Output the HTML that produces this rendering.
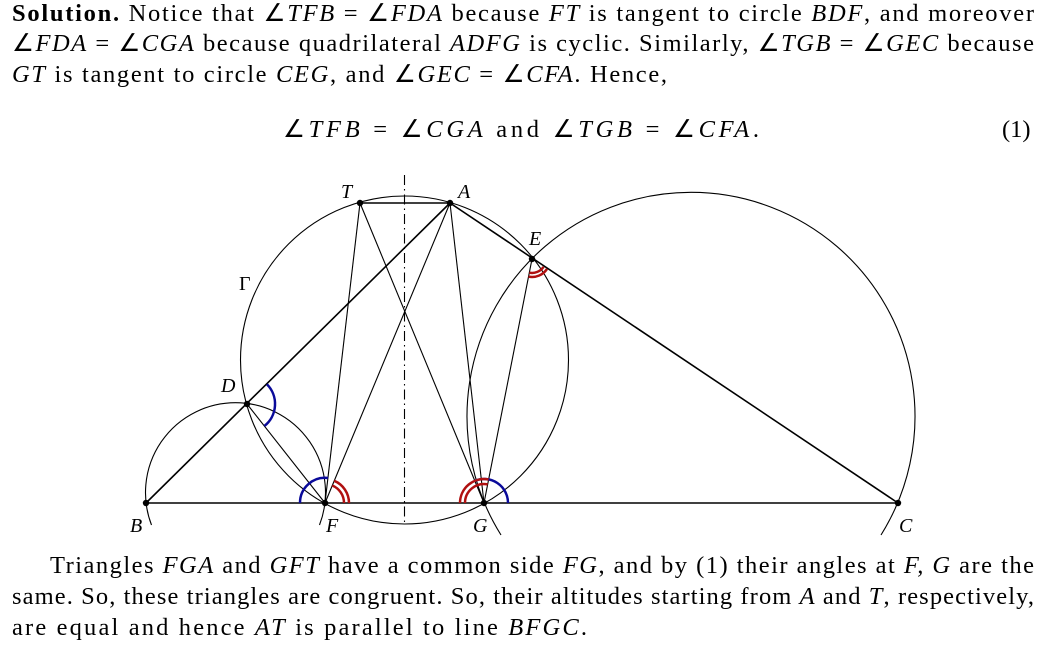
<!DOCTYPE html>
<html><head><meta charset="utf-8"><style>
html,body{margin:0;padding:0;background:#fff;}
svg{display:block;font-family:"Liberation Serif",serif;}
.i{font-style:italic}
</style></head><body>
<svg width="1053" height="645" viewBox="0 0 1053 645" xmlns="http://www.w3.org/2000/svg">
<g font-size="24.5" fill="#000">
<text x="12" y="21" textLength="1022" lengthAdjust="spacing"><tspan font-weight="bold">Solution.</tspan> Notice that ∠<tspan class="i">TFB</tspan> = ∠<tspan class="i">FDA</tspan> because <tspan class="i">FT</tspan> is tangent to circle <tspan class="i">BDF</tspan>, and moreover</text>
<text x="12" y="51" textLength="1022" lengthAdjust="spacing">∠<tspan class="i">FDA</tspan> = ∠<tspan class="i">CGA</tspan> because quadrilateral <tspan class="i">ADFG</tspan> is cyclic. Similarly, ∠<tspan class="i">TGB</tspan> = ∠<tspan class="i">GEC</tspan> because</text>
<text x="12" y="82" textLength="655" lengthAdjust="spacing"><tspan class="i">GT</tspan> is tangent to circle <tspan class="i">CEG</tspan>, and ∠<tspan class="i">GEC</tspan> = ∠<tspan class="i">CFA</tspan>. Hence,</text>
<text x="283" y="137" textLength="476" lengthAdjust="spacing">∠<tspan class="i">TFB</tspan> = ∠<tspan class="i">CGA</tspan>    and    ∠<tspan class="i">TGB</tspan> = ∠<tspan class="i">CFA</tspan>.</text>
<text x="1002" y="137">(1)</text>
<text x="50" y="573" textLength="984" lengthAdjust="spacing">Triangles <tspan class="i">FGA</tspan> and <tspan class="i">GFT</tspan> have a common side <tspan class="i">FG</tspan>, and by (1) their angles at <tspan class="i">F, G</tspan> are the</text>
<text x="12" y="604" textLength="1022" lengthAdjust="spacing">same. So, these triangles are congruent. So, their altitudes starting from <tspan class="i">A</tspan> and <tspan class="i">T</tspan>, respectively,</text>
<text x="12" y="635" textLength="575" lengthAdjust="spacing">are equal and hence <tspan class="i">AT</tspan> is parallel to line <tspan class="i">BFGC</tspan>.</text>
</g>
<g fill="none" stroke="#000" stroke-width="1.1">
<circle cx="404.5" cy="360" r="164"/>
<path d="M151.5,525 A90,90 0 1 1 319.5,525"/>
<path d="M501,535 A224,224 0 1 1 881,535"/>
<line x1="404.5" y1="175" x2="404.5" y2="525" stroke-dasharray="10,4,1.5,4"/>
<line x1="146" y1="503" x2="450" y2="203" stroke-width="1.6"/>
<line x1="450" y1="203" x2="898" y2="503" stroke-width="1.6"/>
<line x1="360" y1="203" x2="450" y2="203" stroke-width="1.6"/>
<line x1="360" y1="203" x2="325" y2="503"/>
<line x1="360" y1="203" x2="484" y2="503"/>
<line x1="450" y1="203" x2="325" y2="503"/>
<line x1="450" y1="203" x2="484" y2="503"/>
<line x1="532" y1="259" x2="484" y2="503"/>
<line x1="247" y1="404" x2="325" y2="503"/>
<line x1="146" y1="503" x2="898" y2="503" stroke-width="1.6"/>
</g>
<g fill="none" stroke-width="2.5">
<path d="M300,503 A25,25 0 0 1 328,478" stroke="#0a0a9a"/>
<path d="M508,503 A24,24 0 0 0 474.8,480.8" stroke="#0a0a9a"/>
<path d="M266.9,384.3 A28,28 0 0 1 264.4,426" stroke="#0a0a9a"/>
<path d="M334.2,480.8 A24,24 0 0 1 349,503" stroke="#b01010"/>
<path d="M332.3,485.5 A19,19 0 0 1 344,503" stroke="#b01010"/>
<path d="M460,503 A24,24 0 0 1 488.6,479.5" stroke="#b01010"/>
<path d="M465,503 A19,19 0 0 1 487.7,484.4" stroke="#b01010"/>
<path d="M547,269 A18,18 0 0 1 528.5,276.6" stroke="#b01010"/>
<path d="M543.6,266.8 A14,14 0 0 1 529.3,272.7" stroke="#b01010"/>
</g>
<g fill="#000">
<circle cx="146" cy="503" r="3.2"/><circle cx="325" cy="503" r="3.2"/><circle cx="484" cy="503" r="3.2"/><circle cx="898" cy="503" r="3.2"/>
<circle cx="450" cy="203" r="3.2"/><circle cx="360" cy="203" r="3.2"/><circle cx="532" cy="259" r="3.2"/><circle cx="247" cy="404" r="3.2"/>
</g>
<g font-size="20" font-style="italic" fill="#000">
<text x="341" y="198">T</text><text x="458" y="198">A</text><text x="529" y="245">E</text>
<text x="239" y="290" font-style="normal">Γ</text><text x="221" y="392">D</text>
<text x="130" y="532">B</text><text x="326" y="532">F</text><text x="473" y="532">G</text><text x="899" y="532">C</text>
</g>
</svg>
</body></html>
